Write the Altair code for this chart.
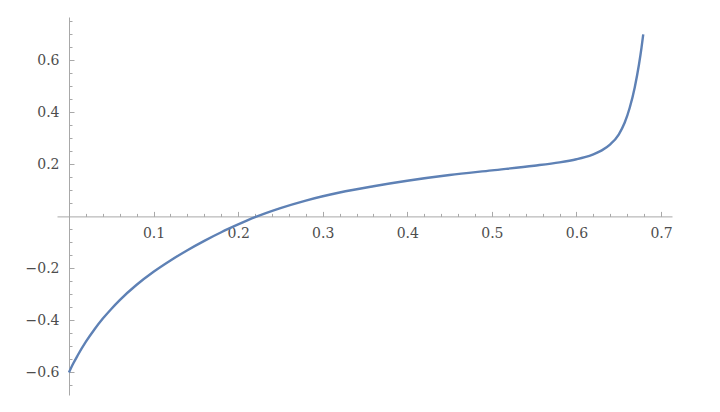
import altair as alt
import pandas as pd

xs = [0, 0.005, 0.01, 0.02, 0.03, 0.04, 0.05, 0.06, 0.08, 0.10, 0.12, 0.14, 0.16, 0.18,
      0.20, 0.22, 0.25, 0.28, 0.32, 0.36, 0.40, 0.45, 0.50, 0.55, 0.58, 0.60, 0.61,
      0.62, 0.63, 0.64, 0.65, 0.657, 0.663, 0.669, 0.674, 0.677, 0.679]
ys = [-0.60, -0.566, -0.536, -0.482, -0.435, -0.393, -0.356, -0.322, -0.263, -0.213,
      -0.1695, -0.130, -0.094, -0.061, -0.031, -0.003, 0.032, 0.061, 0.092, 0.116,
      0.137, 0.159, 0.177, 0.195, 0.208, 0.220, 0.228, 0.239, 0.254, 0.277, 0.315,
      0.36, 0.418, 0.497, 0.585, 0.65, 0.70]

x_major = [0.1, 0.2, 0.3, 0.4, 0.5, 0.6, 0.7]
x_minor = [round(0.02 * i, 2) for i in range(1, 36) if i % 5 != 0]
y_major = [-0.6, -0.4, -0.2, 0.2, 0.4, 0.6]
y_minor = [-0.65, -0.55, -0.5, -0.45, -0.35, -0.3, -0.25, -0.15, -0.1, -0.05,
           0.05, 0.1, 0.15, 0.25, 0.3, 0.35, 0.45, 0.5, 0.55, 0.65, 0.7, 0.75]

xmin, xmax = -0.0142, 0.713
ymin, ymax = -0.687, 0.767
W, H = 615, 378
x0 = W * (0 - xmin) / (xmax - xmin)
y0_top = H * (ymax - 0) / (ymax - ymin)

df = pd.DataFrame({"x": xs, "y": ys})
AX = "#a8a8a8"
LAB = "#4d4d4d"
FONT = "DejaVu Serif"

xs_scale = alt.Scale(domain=[xmin, xmax], nice=False, zero=False)
ys_scale = alt.Scale(domain=[ymin, ymax], nice=False, zero=False)

line = alt.Chart(df).mark_line(color="#5e81b5", strokeWidth=2.4, interpolate="monotone").encode(
    x=alt.X("x:Q", scale=xs_scale, title=None,
            axis=alt.Axis(orient="bottom", offset=-(H - y0_top), values=x_major,
                          ticks=False, domain=True, domainColor=AX, grid=False,
                          labelFont=FONT, labelFontSize=14, labelColor=LAB,
                          labelPadding=10, labelFlush=False, format=".1f")),
    y=alt.Y("y:Q", scale=ys_scale, title=None,
            axis=alt.Axis(orient="left", offset=-x0, values=y_major,
                          ticks=False, domain=True, domainColor=AX, grid=False,
                          labelFont=FONT, labelFontSize=14, labelColor=LAB,
                          labelPadding=10, labelFlush=False, format=".1f")),
)

def tick_layer(xv, yv, size):
    return alt.Chart(df).mark_line(opacity=0).encode(
        x=alt.X("x:Q", scale=xs_scale, title=None,
                axis=alt.Axis(orient="top", offset=-y0_top, values=xv, labels=False,
                              domain=False, grid=False, ticks=True, tickSize=size,
                              tickColor=AX, tickWidth=1)),
        y=alt.Y("y:Q", scale=ys_scale, title=None,
                axis=alt.Axis(orient="right", offset=-(W - x0), values=yv, labels=False,
                              domain=False, grid=False, ticks=True, tickSize=size,
                              tickColor=AX, tickWidth=1)),
    )

chart = alt.layer(line, tick_layer(x_major, y_major, 5), tick_layer(x_minor, y_minor, 3)).resolve_axis(
    x="independent", y="independent"
).properties(
    width=W, height=H,
    autosize=alt.AutoSizeParams(type="none"),
    padding={"left": 49, "top": 9, "right": 40, "bottom": 9},
).configure_view(stroke=None)

chart.save("out.html", embed_options={"renderer": "svg", "actions": False})
